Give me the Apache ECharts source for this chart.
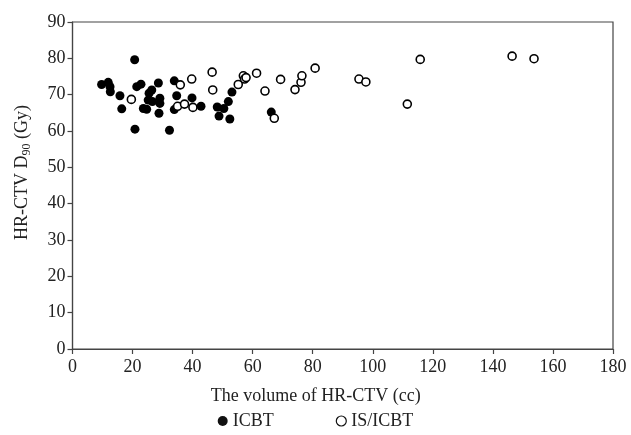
<!DOCTYPE html>
<html>
<head>
<meta charset="utf-8">
<script src="https://cdn.jsdelivr.net/npm/echarts@6/dist/echarts.min.js"></script>
<style>html,body{margin:0;padding:0;background:#fff}#c{width:631px;height:435px}</style>
</head>
<body>
<div id="c"></div>
<script>
// ICBT (filled) [volume cc, D90 Gy]
var icbtX = [9.7, 11.9, 12.5, 12.6, 15.8, 16.4, 20.7, 20.8, 21.4, 22.8, 23.6, 24.7, 25.2, 25.5, 26.4, 26.6, 28.6, 28.8, 29.1, 29.1, 32.3, 33.9, 34.7, 33.9, 39.8, 42.8, 48.2, 48.8, 50.4, 51.9, 52.4, 53.1, 66.2];
var icbtY = [72.8, 73.4, 72.2, 70.8, 69.7, 66.1, 79.6, 60.5, 72.2, 72.9, 66.2, 66.0, 68.5, 70.4, 71.3, 68.1, 73.2, 64.9, 69.0, 67.6, 60.2, 73.8, 69.7, 65.9, 69.1, 66.8, 66.6, 64.1, 66.2, 68.1, 63.3, 70.7, 65.2];
// IS/ICBT (open)
var isX = [19.6, 35.9, 35.0, 37.3, 39.7, 40.1, 46.5, 46.7, 55.2, 56.9, 57.3, 57.8, 61.3, 64.1, 67.2, 69.3, 74.1, 76.1, 76.4, 80.8, 95.4, 97.7, 111.5, 115.8, 146.4, 153.7];
var isY = [68.7, 72.7, 66.8, 67.4, 74.3, 66.5, 76.2, 71.3, 72.8, 75.2, 74.3, 74.7, 75.9, 71.0, 63.5, 74.2, 71.4, 73.4, 75.2, 77.3, 74.3, 73.5, 67.4, 79.7, 80.6, 79.9];
var seriesNames = ['ICBT', 'IS/ICBT'];
var xTitle = 'The volume of HR-CTV (cc)';

function pairs(xs, ys) { return xs.map(function (x, i) { return [x, ys[i]]; }); }

var font = 'Liberation Serif';
var chart = echarts.init(document.getElementById('c'), null, { renderer: 'canvas' });
chart.setOption({
  backgroundColor: '#fff',
  animation: false,
  textStyle: { fontFamily: font, color: '#222' },
  grid: { left: 72.5, right: 18, top: 22, bottom: 86, show: true, borderColor: '#444', borderWidth: 1.2 },
  legend: {
    bottom: 0, left: 'center', itemGap: 62, itemWidth: 10, itemHeight: 10,
    textStyle: { fontFamily: font, fontSize: 18, color: '#222' },
    data: [
      { name: seriesNames[0], icon: 'circle', itemStyle: { color: '#111', borderWidth: 0 } },
      { name: seriesNames[1], icon: 'circle', itemStyle: { color: '#fff', borderColor: '#111', borderWidth: 1.2 } }
    ]
  },
  xAxis: {
    type: 'value', min: 0, max: 180, interval: 20,
    name: xTitle, nameLocation: 'middle', nameGap: 38,
    nameTextStyle: { fontFamily: font, fontSize: 18, color: '#222', padding: [0, 54, 0, 0] },
    axisLine: { lineStyle: { color: '#444', width: 1.2 } },
    axisTick: { length: 5, lineStyle: { color: '#444', width: 1.2 } },
    axisLabel: { fontFamily: font, fontSize: 18, color: '#222', margin: 9 },
    splitLine: { show: false }
  },
  yAxis: {
    type: 'value', min: 0, max: 90, interval: 10,
    name: '{a|HR-CTV D}{s|90}{a| (Gy)}', nameLocation: 'middle', nameGap: 40, nameRotate: 90,
    nameTextStyle: {
      fontFamily: font, fontSize: 18, color: '#222', padding: [0, 0, 0, 26],
      rich: {
        a: { fontFamily: font, fontSize: 18, color: '#222' },
        s: { fontFamily: font, fontSize: 12, color: '#222', verticalAlign: 'bottom', padding: [8, 0, 0, 0] }
      }
    },
    axisLine: { show: true, lineStyle: { color: '#444', width: 1.2 } },
    axisTick: { show: true, length: 5, lineStyle: { color: '#444', width: 1.2 } },
    axisLabel: { fontFamily: font, fontSize: 18, color: '#222', margin: 7 },
    splitLine: { show: false }
  },
  series: [
    {
      name: seriesNames[0], type: 'scatter', symbol: 'circle', symbolSize: 9,
      itemStyle: { color: '#000', opacity: 1 },
      data: pairs(icbtX, icbtY)
    },
    {
      name: seriesNames[1], type: 'scatter', symbol: 'circle', symbolSize: 8,
      itemStyle: { color: '#fff', borderColor: '#000', borderWidth: 1.6, opacity: 1 },
      data: pairs(isX, isY)
    }
  ]
});
</script>
</body>
</html>
